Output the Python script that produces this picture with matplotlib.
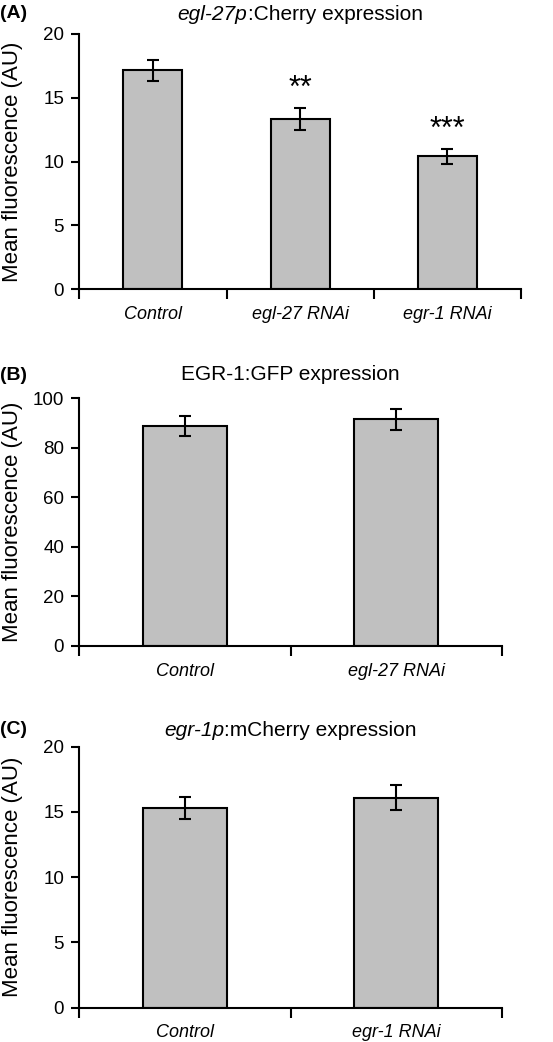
import numpy as np
import matplotlib.pyplot as plt

plt.rcParams['font.family'] = ['Liberation Sans', 'DejaVu Sans']

# Datos
cats_a = ['Control', 'egl-27 RNAi', 'egr-1 RNAi']
mean_a = [17.15, 13.35, 10.4]
sem_a = [0.82, 0.86, 0.6]
stars_a = ['', '**', '***']

cats_b = ['Control', 'egl-27 RNAi']
mean_b = [88.9, 91.5]
sem_b = [4.1, 4.1]

cats_c = ['Control', 'egr-1 RNAi']
mean_c = [15.33, 16.09]
sem_c = [0.84, 0.95]

W, H = 553, 1042
fig = plt.figure(figsize=(W / 100, H / 100), dpi=100)
renderer = fig.canvas.get_renderer()


def titulo(xc, y, partes):
    # partes = [(texto, estilo), ...] centradas juntas en xc
    textos = [fig.text(0, y, s, style=st, ha='left', va='center', fontsize=15) for s, st in partes]
    anchos = [t.get_window_extent(renderer).width / W for t in textos]
    x0 = xc - sum(anchos) / 2
    for t, w in zip(textos, anchos):
        t.set_x(x0)
        x0 += w


def panel(rect, cats, mean, sem, ymax, step, letter, title_parts, title_y, stars=None):
    l, r, b, t = rect
    ax = fig.add_axes([l / W, 1 - b / H, (r - l) / W, (b - t) / H])
    x = np.arange(len(cats))
    ax.bar(x, mean, width=0.4, color='#c0c0c0', edgecolor='black', linewidth=1.5, zorder=2)
    ax.errorbar(x, mean, yerr=sem, fmt='none', ecolor='black', elinewidth=1.5,
                capsize=4, capthick=1.5, zorder=3)
    if stars:
        for xi, m, s, st in zip(x, mean, sem, stars):
            if st:
                ax.text(xi, m + s + 1.5, st, ha='center', va='center', fontsize=22)
    ax.set_xlim(-0.5, len(cats) - 0.5)
    ax.set_ylim(0, ymax)
    ax.set_yticks(np.arange(0, ymax + step / 2, step))
    ax.tick_params(axis='y', direction='out', length=6, width=1.5, labelsize=13.5, pad=5)
    # ticks en los limites de cada categoria, etiquetas en el centro
    ax.set_xticks(np.arange(len(cats) + 1) - 0.5)
    ax.set_xticklabels([])
    ax.tick_params(axis='x', which='major', direction='out', length=7, width=1.5)
    ax.set_xticks(x, minor=True)
    ax.set_xticklabels(cats, minor=True, style='italic', fontsize=13)
    ax.tick_params(axis='x', which='minor', length=0, pad=12)
    for sp in ['top', 'right']:
        ax.spines[sp].set_visible(False)
    for sp in ['left', 'bottom']:
        ax.spines[sp].set_linewidth(1.5)
    fig.text(13 / W, 1 - (t + b) / 2 / H, 'Mean fluorescence (AU)', rotation=90,
             ha='center', va='center', fontsize=16)
    fig.text(0, 1 - title_y / H, letter, fontweight='bold', fontsize=14, ha='left', va='center')
    titulo((l + r) / 2 / W, 1 - title_y / H, title_parts)
    return ax


panel((79.3, 521, 289.3, 33.7), cats_a, mean_a, sem_a, 20, 5, '(A)',
      [('egl-27p', 'italic'), (':Cherry expression', 'normal')], 14, stars_a)
panel((79.3, 501.7, 646, 398.3), cats_b, mean_b, sem_b, 100, 20, '(B)',
      [('EGR-1:GFP expression', 'normal')], 375)
panel((79.3, 501.7, 1007.7, 746.7), cats_c, mean_c, sem_c, 20, 5, '(C)',
      [('egr-1p', 'italic'), (':mCherry expression', 'normal')], 730)

fig.savefig('out.png', dpi=100)
